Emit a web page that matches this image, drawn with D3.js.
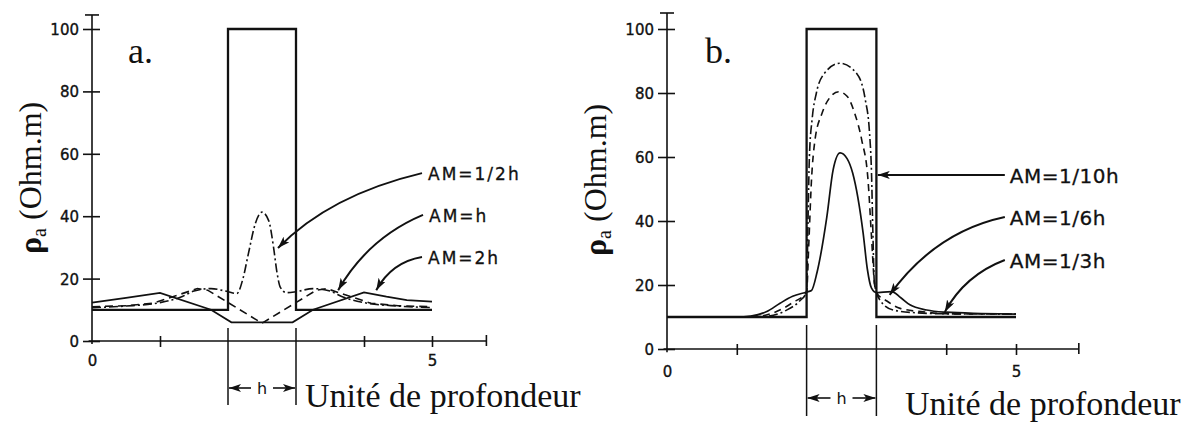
<!DOCTYPE html>
<html><head><meta charset="utf-8">
<script src="https://cdn.jsdelivr.net/npm/d3@7"></script>
<style>body{margin:0;background:#fff}svg{display:block}</style>
</head><body><svg id="c" width="1196" height="423"></svg>
<script>
// ---------- data ----------
const depthTicks = [0, 1, 2, 3, 4, 5];
const depthLabels = ["0", "", "", "", "", "5"];
const rhoTicks = [0, 20, 40, 60, 80, 100];

// true resistivity model (both panels)
const modelDepth = [0, 2, 2, 3, 3, 5];
const modelRho   = [10, 10, 100, 100, 10, 10];

// panel a : normal curves
const aSolidDepth = [0, 0.5, 1.0, 1.75, 2.05, 2.95, 3.25, 4.0, 4.33, 4.63, 5.0];
const aSolidRho   = [12.3, 13.8, 15.4, 10, 6, 6, 10, 15.6, 14.2, 13.1, 12.6];          // AM=2h
const aDashDepth  = [0, 0.5, 0.9, 1.3, 1.55, 1.7, 2.5, 3.3, 3.45, 3.7, 4.1, 4.5, 5.0];
const aDashRho    = [11, 11.3, 12.1, 15, 16.8, 16.3, 5.7, 16.3, 16.8, 15, 12.1, 11.3, 11]; // AM=h
const aDotDepth   = [0, 0.5, 1.0, 1.3, 1.5, 1.75, 2.0, 2.13, 2.22, 2.3, 2.4, 2.5, 2.6, 2.67, 2.72, 2.77, 2.86, 3.0, 3.25, 3.5, 3.7, 4.0, 4.5, 5.0];
const aDotRho     = [10.7, 11.2, 12.3, 14, 16, 16.8, 15.8, 15.2, 20, 28, 37.5, 41.3, 38.5, 30, 22, 17.2, 15.5, 15.8, 16.8, 16, 14, 12.3, 11.2, 10.7]; // AM=1/2h

// panel b : lateral curves
const bSolidDepth = [0, 1.0, 1.2, 1.43, 1.62, 1.8, 2.0, 2.07, 2.15, 2.29, 2.38, 2.48, 2.58, 2.66, 2.81, 2.87, 2.93, 3.0, 3.1, 3.22, 3.35, 3.48, 3.72, 4.0, 4.5, 5.0];
const bSolidRho   = [10, 10, 10.3, 11.7, 14.3, 16.5, 17.8, 18.3, 24, 41.3, 56, 61.3, 59.5, 55, 36.2, 25, 19, 17.6, 17.8, 17.9, 16, 13.8, 12.2, 11.5, 11.1, 10.9];  // AM=1/3h
const bDashDepth  = [0, 1.0, 1.3, 1.6, 1.8, 2.0, 2.03, 2.07, 2.12, 2.22, 2.33, 2.46, 2.58, 2.69, 2.79, 2.88, 2.93, 2.97, 3.0, 3.15, 3.34, 3.72, 4.0, 5.0];
const bDashRho    = [10, 10, 10.2, 12, 14.5, 17.8, 32, 52.8, 65.3, 73.6, 78.5, 80.4, 79, 73.6, 65.3, 52.8, 35, 21, 17.6, 15, 12.7, 11.5, 11, 10.9];  // AM=1/6h
const bDotDepth   = [0, 1.0, 1.4, 1.7, 1.9, 2.0, 2.02, 2.04, 2.08, 2.14, 2.25, 2.48, 2.72, 2.84, 2.9, 2.93, 2.95, 2.97, 3.0, 3.05, 3.24, 3.58, 4.0, 5.0];
const bDotRho     = [10, 10, 10.2, 12, 15, 17.8, 40, 60, 72, 80, 86, 89.3, 86, 78, 68, 55, 36, 21, 17.8, 15.3, 12.2, 11.3, 11, 10.9]; // AM=1/10h

// annotations: label, arrow start, control, tip (depth, rho)
const aLabels = ["AM=1/2h", "AM=h", "AM=2h"];
const aArrowStart = [[4.853, 53.8], [4.868, 40.4], [4.853, 26.9]];
const aArrowCtrl  = [[3.5, 46.8], [4.06, 33], [4.41, 25.3]];
const aArrowTip   = [[2.735, 29.8], [3.62, 16.3], [4.18, 16.3]];
const bLabels = ["AM=1/10h", "AM=1/6h", "AM=1/3h"];
const bArrowStart = [[4.84, 54.4], [4.84, 41.25], [4.84, 27.8]];
const bArrowCtrl  = [[3.93, 54.4], [3.84, 36.6], [4.27, 23.1]];
const bArrowTip   = [[3.02, 54.4], [3.19, 16.9], [3.98, 11.6]];

// ---------- drawing ----------
const svg = d3.select("#c");
svg.append("rect").attr("width", 1196).attr("height", 423).attr("fill", "#fff");
const defs = svg.append("defs");
defs.append("marker").attr("id", "ah").attr("viewBox", "0 0 12 8")
  .attr("refX", 12).attr("refY", 4).attr("markerWidth", 12).attr("markerHeight", 8)
  .attr("markerUnits", "userSpaceOnUse").attr("orient", "auto")
  .append("path").attr("d", "M0,0 L12,4 L0,8 L3,4 z").attr("fill", "#111");

const SANS = "'DejaVu Sans', Verdana, sans-serif";
const SERIF = "'Liberation Serif', 'Times New Roman', serif";
const ink = "#111";

const zip = (a, b) => a.map((d, i) => [d, b[i]]);

function panel(cfg) {
  const x = d3.scaleLinear().domain([0, 5]).range(cfg.xr);
  const y = d3.scaleLinear().domain([0, 100]).range(cfg.yr);
  const g = svg.append("g");

  // y axis
  const ya = d3.axisLeft(y).tickValues(rhoTicks).tickSizeOuter(0).tickSizeInner(9).tickPadding(0);
  const yg = g.append("g").attr("transform", `translate(${x(0)},0)`).call(ya);
  yg.select(".domain").remove();
  yg.selectAll(".tick line").attr("x1", 8).attr("x2", -9).attr("stroke", ink).attr("stroke-width", 1.6);
  yg.selectAll(".tick text").attr("x", -13).attr("dy", "0.36em")
    .style("font-family", SANS).style("font-size", "15px").attr("fill", ink)
    .attr("stroke", ink).attr("stroke-width", 0.35);
  g.append("line").attr("x1", x(0)).attr("x2", x(0)).attr("y1", y(-1)).attr("y2", y(cfg.yTop))
    .attr("stroke", ink).attr("stroke-width", 1.6);
  g.append("line").attr("x1", x(0) - 7).attr("x2", x(0) + 7).attr("y1", y(cfg.yTop)).attr("y2", y(cfg.yTop))
    .attr("stroke", ink).attr("stroke-width", 1.6);

  // x axis
  const xa = d3.axisBottom(x).tickValues([0, 1, 4, 5]).tickFormat(d => depthLabels[depthTicks.indexOf(d)]).tickSizeOuter(0);
  const xg = g.append("g").attr("transform", `translate(0,${y(0)})`).call(xa);
  xg.select(".domain").remove();
  xg.selectAll(".tick line").attr("y1", -5).attr("y2", 6).attr("stroke", ink).attr("stroke-width", 1.6);
  xg.selectAll(".tick").filter(d => d === 0).select("line").remove();
  xg.selectAll(".tick text").attr("y", cfg.xLabOff).attr("dy", 0)
    .style("font-family", SANS).style("font-size", "15px").attr("fill", ink)
    .attr("stroke", ink).attr("stroke-width", 0.35);
  g.append("line").attr("x1", x(-0.05)).attr("x2", x(cfg.xEnd)).attr("y1", y(0)).attr("y2", y(0))
    .attr("stroke", ink).attr("stroke-width", 1.6);
  g.append("line").attr("x1", x(cfg.xEnd)).attr("x2", x(cfg.xEnd)).attr("y1", y(0) - 6).attr("y2", y(0) + 5)
    .attr("stroke", ink).attr("stroke-width", 1.6);

  // h markers
  [2, 3].forEach(d => g.append("line").attr("x1", x(d)).attr("x2", x(d))
    .attr("y1", cfg.hTop).attr("y2", cfg.hBot).attr("stroke", ink).attr("stroke-width", 1.5));
  const hm = (x(2) + x(3)) / 2;
  g.append("line").attr("x1", hm - 11).attr("x2", x(2) + 1).attr("y1", cfg.hY).attr("y2", cfg.hY)
    .attr("stroke", ink).attr("stroke-width", 1.6).attr("marker-end", "url(#ah)");
  g.append("line").attr("x1", hm + 11).attr("x2", x(3) - 1).attr("y1", cfg.hY).attr("y2", cfg.hY)
    .attr("stroke", ink).attr("stroke-width", 1.6).attr("marker-end", "url(#ah)");
  g.append("text").attr("x", hm).attr("y", cfg.hY + 6).attr("text-anchor", "middle")
    .style("font-family", SANS).style("font-size", "16px").attr("fill", ink).text("h");

  // model
  const lin = d3.line().x(d => x(d[0])).y(d => y(d[1]));
  g.append("path").attr("d", lin(zip(modelDepth, modelRho))).attr("fill", "none")
    .attr("stroke", ink).attr("stroke-width", 2.3).attr("stroke-linejoin", "miter");

  // curves
  cfg.curves.forEach(c => {
    const l = d3.line().x(d => x(d[0])).y(d => y(d[1])).curve(c.curve);
    g.append("path").attr("d", l(zip(c.d, c.r))).attr("fill", "none").attr("stroke", ink)
      .attr("stroke-width", c.w || 1.6).attr("stroke-dasharray", c.dash || null);
  });

  // annotations
  cfg.labels.forEach((t, i) => {
    const s = cfg.start[i], c = cfg.ctrl[i], e = cfg.tip[i];
    g.append("path").attr("d", `M${x(s[0])},${y(s[1])} Q${x(c[0])},${y(c[1])} ${x(e[0])},${y(e[1])}`)
      .attr("fill", "none").attr("stroke", ink).attr("stroke-width", 2).attr("marker-end", "url(#ah)");
    g.append("text").attr("x", x(s[0]) + cfg.labDx).attr("y", y(s[1]) + cfg.labDy)
      .style("font-family", SANS).style("font-size", cfg.labFs + "px").style("letter-spacing", cfg.labLs + "px")
      .attr("fill", ink).attr("stroke", ink).attr("stroke-width", 0.3).text(t);
  });

  // panel letter
  g.append("text").attr("x", cfg.letter[0]).attr("y", cfg.letter[1])
    .style("font-family", SERIF).style("font-size", "36px").attr("fill", ink).text(cfg.letterText);

  // x title
  g.append("text").attr("x", cfg.xTitle[0]).attr("y", cfg.xTitle[1])
    .style("font-family", SERIF).style("font-size", "34px").attr("fill", ink).text("Unité de profondeur");

  // y title
  const yt = g.append("text").attr("transform", `translate(${cfg.yTitle[0]},${cfg.yTitle[1]}) rotate(-90)`)
    .style("font-family", SERIF).style("font-size", "32px").attr("fill", ink);
  yt.append("tspan").style("font-weight", "bold").text("ρ");
  yt.append("tspan").style("font-size", "20px").attr("dy", 5).text("a");
  yt.append("tspan").attr("dy", -5).text(" (Ohm.m)");
}

panel({
  xr: [92, 432], yr: [341, 29], yTop: 104.5, xEnd: 5.8, xLabOff: 25,
  hTop: 328, hBot: 405, hY: 388,
  curves: [
    { d: aSolidDepth, r: aSolidRho, curve: d3.curveLinear, w: 1.7 },
    { d: aDashDepth, r: aDashRho, curve: d3.curveLinear, dash: "8,5" },
    { d: aDotDepth, r: aDotRho, curve: d3.curveMonotoneX, dash: "9,3,2,3" }
  ],
  labels: aLabels, start: aArrowStart, ctrl: aArrowCtrl, tip: aArrowTip,
  labDx: 6, labDy: 7, labFs: 17, labLs: 2,
  letter: [128, 63], letterText: "a.",
  xTitle: [305, 407], yTitle: [41, 254]
});

panel({
  xr: [667, 1016], yr: [349, 29], yTop: 105, xEnd: 5.9, xLabOff: 28,
  hTop: 325, hBot: 416, hY: 398,
  curves: [
    { d: bSolidDepth, r: bSolidRho, curve: d3.curveMonotoneX, w: 1.7 },
    { d: bDashDepth, r: bDashRho, curve: d3.curveMonotoneX, dash: "7,5" },
    { d: bDotDepth, r: bDotRho, curve: d3.curveMonotoneX, dash: "9,3,2,3" }
  ],
  labels: bLabels, start: bArrowStart, ctrl: bArrowCtrl, tip: bArrowTip,
  labDx: 5, labDy: 8, labFs: 20, labLs: 0.5,
  letter: [705, 63], letterText: "b.",
  xTitle: [905, 415], yTitle: [606, 256]
});
</script></body></html>
